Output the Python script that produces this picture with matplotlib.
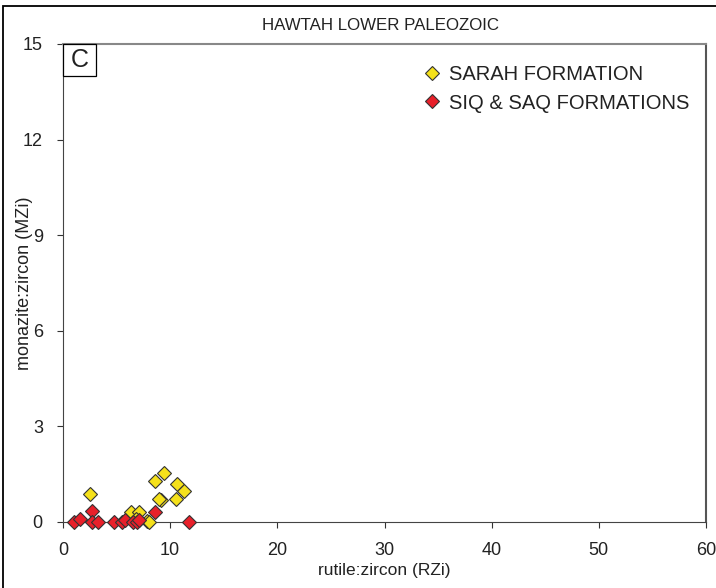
import matplotlib
matplotlib.use("Agg")
import matplotlib.pyplot as plt
from matplotlib.patches import Rectangle
from matplotlib.lines import Line2D

plt.rcParams['font.family'] = ['Liberation Sans', 'DejaVu Sans']

title = "HAWTAH LOWER PALEOZOIC"
panel_label = "C"
x_label = "rutile:zircon (RZi)"
y_label = "monazite:zircon (MZi)"
x_ticks = [0, 10, 20, 30, 40, 50, 60]
y_ticks = [0, 3, 6, 9, 12, 15]

sarah_name = "SARAH FORMATION"
sarah_x = [2.5, 9.4, 8.6, 10.6, 11.3, 10.5, 9.1, 9.0, 6.3, 7.1, 6.8, 7.8, 8.0]
sarah_y = [0.88, 1.55, 1.29, 1.19, 0.98, 0.72, 0.69, 0.72, 0.31, 0.30, 0.10, 0.04, 0.0]

siq_name = "SIQ & SAQ FORMATIONS"
siq_x = [1.0, 1.6, 2.7, 2.7, 3.3, 4.8, 5.5, 5.8, 6.5, 6.9, 7.1, 8.6, 11.8]
siq_y = [0.0, 0.10, 0.34, 0.0, 0.0, 0.0, 0.0, 0.05, 0.0, 0.0, 0.05, 0.31, 0.0]

yellow = '#f5e11b'
red = '#e8202a'
edge = '#333333'
text_c = '#222222'

W, H = 716, 588
ax_l, ax_r, ax_t, ax_b = 63, 706, 44, 522
aw, ah = ax_r - ax_l, ax_b - ax_t
fig = plt.figure(figsize=(W / 100, H / 100), dpi=100)
ax = fig.add_axes([ax_l / W, 1 - ax_b / H, aw / W, ah / H])

# figure border
fig.patches.append(Rectangle((3 / W, -0.1), 1.2, 1 - 6 / H + 0.1, transform=fig.transFigure,
                             fill=False, edgecolor='black', linewidth=1.3))

ax.plot(sarah_x, sarah_y, linestyle='none', marker='D', markersize=7.5, clip_on=False,
        markerfacecolor=yellow, markeredgecolor=edge, markeredgewidth=0.8, zorder=3)
ax.plot(siq_x, siq_y, linestyle='none', marker='D', markersize=7.5, clip_on=False,
        markerfacecolor=red, markeredgecolor=edge, markeredgewidth=0.8, zorder=3)

ax.set_xlim(0, 60)
ax.set_ylim(0, 15)
ax.set_xticks(x_ticks)
ax.set_yticks(y_ticks)
ax.tick_params(direction='out', length=4.5, width=0.8, labelsize=13, colors='#333333',
               labelcolor=text_c)
ax.tick_params(axis='y', pad=10)
ax.tick_params(axis='x', pad=10)
ax.set_xlabel(x_label, fontsize=12.5, color=text_c, va='center')
ax.set_ylabel(y_label, fontsize=13, color=text_c, va='center')
ax.xaxis.set_label_coords(0.5, (ax_b - 571) / ah)
ax.yaxis.set_label_coords((25 - ax_l) / aw, 0.5)
ax.spines['top'].set_color('#888888')
ax.spines['top'].set_linewidth(1.5)
ax.spines['right'].set_color('#555555')
ax.spines['right'].set_linewidth(1.5)
ax.spines['left'].set_color('#444444')
ax.spines['bottom'].set_color('#444444')

fig.text(381 / W, 1 - 26 / H, title, ha='center', va='center', fontsize=12.2, color=text_c)

# panel label box
bw, bh = 33 / aw, 32 / ah
ax.add_patch(Rectangle((0, 1 - bh), bw, bh, transform=ax.transAxes, facecolor='white',
                       edgecolor='black', linewidth=0.9, zorder=4, clip_on=False))
ax.text(bw / 2, 1 - bh / 2, panel_label, transform=ax.transAxes, ha='center', va='center',
        fontsize=18, color=text_c, zorder=5)

handles = [
    Line2D([], [], linestyle='none', marker='D', markersize=7, markerfacecolor=yellow,
           markeredgecolor=edge, markeredgewidth=0.8, label=sarah_name),
    Line2D([], [], linestyle='none', marker='D', markersize=7, markerfacecolor=red,
           markeredgecolor=edge, markeredgewidth=0.8, label=siq_name),
]
ax.legend(handles=handles, loc='upper left', bbox_to_anchor=(0.549, 0.972), frameon=False,
          fontsize=14.5, handlelength=0.8, handletextpad=0.45, labelspacing=0.45,
          labelcolor=text_c, borderaxespad=0)

fig.savefig("out.png", dpi=100)
